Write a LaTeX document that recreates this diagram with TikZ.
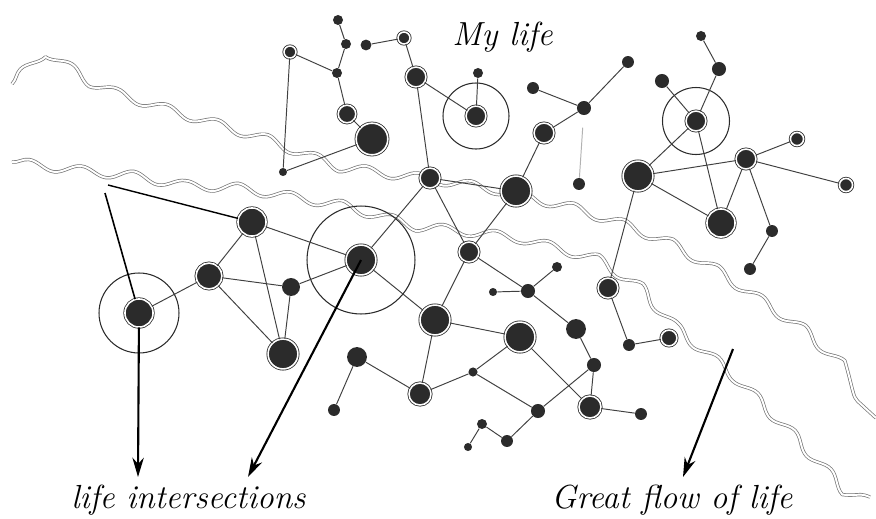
\documentclass[tikz,border=0pt]{standalone}
\usepackage{tikz}
\usetikzlibrary{arrows.meta,decorations.pathmorphing}
\definecolor{ink}{HTML}{2B2B2B}

\begin{document}
\begin{tikzpicture}[x=0.02cm,y=-0.02cm,
  link/.style={draw=black!75,line width=0.55pt},
  halo/.style={draw=ink,line width=0.6pt},
  dot/.style={circle,fill=ink,inner sep=0pt,minimum size=#1},
  ring/.style={circle,fill=ink,draw=ink,line width=0.45pt,double=white,double distance=0.9pt,inner sep=0pt,minimum size=#1},
  river/.style={draw=black!55,line width=0.4pt,double=white,double distance=1.1pt,line join=round,decorate,
    decoration={snake,amplitude=2.6pt,segment length=30pt}},
  pointer/.style={draw=black,line width=1.2pt},
  tag/.style={font=\fontsize{19}{23}\selectfont\itshape,inner sep=0pt}]
  \useasboundingbox (0,0) rectangle (876,518);
  % the two streams
  \draw[river] (12,84) -- (24,72) -- (42,76) -- (70,95) -- (110,112) -- (160,128) -- (210,143)
    -- (250,155) -- (283,168) -- (320,182) -- (380,190) -- (440,198) -- (500,208) -- (560,222) -- (615,240)
    -- (665,260) -- (720,292) -- (790,340) -- (840,385) -- (876,418);
  \draw[river] (12,162) -- (60,168) -- (110,173) -- (160,182) -- (220,185) -- (280,195)
    -- (340,205) -- (400,222) -- (460,228) -- (520,236) -- (580,252) -- (630,285) -- (670,330) -- (733,383)
    -- (790,440) -- (830,483) -- (870,497);
  % upper group
  \node[dot=5.7pt] (a1) at (338,20) {}; \node[dot=5.7pt] (a2) at (346,44) {}; \node[dot=5.7pt] (a3) at (337,73) {};
  \node[ring=6.8pt] (a4) at (290,52) {}; \node[ring=10pt] (a5) at (347,114) {}; \node[ring=18pt] (a6) at (372,139) {};
  \node[dot=4.6pt] (a7) at (283,172) {};
  \node[dot=6.2pt] (b1) at (366,45) {}; \node[ring=6.8pt] (b2) at (404,38) {}; \node[ring=11.3pt] (b3) at (416,77) {};
  \node[dot=5.7pt] (c1) at (478,73) {}; \node[ring=11.3pt] (c2) at (476,116) {};
  \node[ring=11.3pt] (d1) at (430,178) {}; \node[ring=17pt] (d2) at (516,191) {};
  \node[dot=6.8pt] (e1) at (533,88) {}; \node[ring=11.3pt] (e2) at (544,133) {}; \node[dot=8pt] (e3) at (584,108) {};
  \node[dot=6.8pt] (e4) at (579,184) {}; \node[dot=6.8pt] (e5) at (628,62) {};
  % right group
  \node[dot=5.7pt] (f1) at (701,36) {}; \node[dot=8pt] (f2) at (719,69) {}; \node[dot=8pt] (f3) at (662,81) {};
  \node[ring=11.3pt] (f4) at (696,121) {}; \node[ring=17pt] (f5) at (638,176) {}; \node[ring=11.3pt] (f6) at (746,159) {};
  \node[ring=7.5pt] (f7) at (797,139) {}; \node[ring=7.5pt] (f8) at (846,185) {}; \node[ring=16pt] (f9) at (721,223) {};
  \node[dot=6.8pt] (f10) at (772,231) {}; \node[dot=6.8pt] (f11) at (750,269) {};
  \node[ring=11.3pt] (m1) at (608,288) {}; \node[dot=6.8pt] (m2) at (629,345) {}; \node[ring=9pt] (m3) at (669,338) {};
  % middle group
  \node[ring=11.3pt] (g1) at (469,252) {};
  \node[dot=5.7pt] (k1) at (557,267) {}; \node[dot=4.6pt] (k2) at (493,292) {}; \node[dot=8pt] (k3) at (528,291) {};
  \node[dot=11.3pt] (k4) at (576,329) {}; \node[dot=8pt] (k5) at (594,365) {}; \node[ring=12.5pt] (k6) at (590,407) {};
  \node[dot=6.8pt] (k7) at (641,414) {};
  \node[ring=17pt] (h1) at (361,260) {};
  \node[ring=17pt] (n1) at (435,320) {}; \node[ring=17pt] (n2) at (520,337) {}; \node[dot=5.2pt] (n3) at (473,372) {};
  \node[dot=8pt] (n4) at (538,411) {}; \node[ring=12.5pt] (n5) at (420,394) {}; \node[dot=11.3pt] (n6) at (357,357) {};
  \node[dot=6.8pt] (n7) at (334,410) {};
  \node[dot=5.7pt] (p1) at (482,424) {}; \node[dot=6.8pt] (p2) at (507,441) {}; \node[dot=4.6pt] (p3) at (468,447) {};
  % left group
  \node[ring=16pt] (q1) at (139,313) {}; \node[ring=14.7pt] (q2) at (209,276) {}; \node[ring=16pt] (q3) at (252,222) {};
  \node[dot=10.2pt] (q4) at (291,287) {}; \node[ring=17pt] (q5) at (283,354) {};
  % halos
  \draw[halo] (c2) circle[radius=0.66cm]; \draw[halo] (f4) circle[radius=0.67cm];
  \draw[halo] (h1) circle[radius=1.08cm]; \draw[halo] (q1) circle[radius=0.8cm];
  % links
  \foreach \s/\t in {a1/a2,a2/a3,a4/a3,a3/a5,a5/a6,a4/a7,a7/a6,b1/b2,b2/b3,b3/c2,b3/d1,c1/c2,
      d1/d2,d1/h1,d1/g1,d2/g1,d2/e2,e1/e3,e3/e5,e3/e2,f1/f2,f2/f4,f3/f4,f4/f5,f4/f9,f5/f6,f6/f7,
      f6/f8,f5/f9,f6/f9,f6/f10,f10/f11,f5/m1,m1/m2,m2/m3,g1/n1,g1/k3,k2/k3,k3/k1,k3/k4,k4/k5,
      k5/n4,k5/k6,k6/k7,n2/k6,h1/n1,n1/n2,n1/n5,n2/n3,n3/n5,n3/n4,n4/p2,p2/p1,p1/p3,n6/n5,n6/n7,
      q1/q2,q2/q3,q2/q4,q2/q5,q3/q5,q4/q5,q4/h1,q3/h1}
    \draw[link] (\s) -- (\t);
  \draw[link,draw=black!30,shorten >=7pt] (e4) -- (e3);
  % pointers and labels
  \coordinate (t1) at (108,185); \coordinate (t2) at (105,193);
  \coordinate (tip1) at (138,477); \coordinate (tip2) at (248,477);
  \coordinate (r1) at (733,349); \coordinate (tip3) at (683,477);
  \draw[link,draw=black,line width=0.8pt] (t1) -- (q3); \draw[link,draw=black,line width=0.9pt] (t2) -- (q1);
  \draw[pointer,-{Stealth[length=11pt,width=6.5pt]}] (q1) -- (tip1);
  \draw[pointer,-{Stealth[length=11pt,width=6.5pt]}] (h1.center) -- (tip2);
  \draw[pointer,-{Stealth[length=11pt,width=6.5pt]}] (r1) -- (tip3);
  \node[tag,anchor=base west] (mylife) at (452,45) {My life};
  \node[tag,anchor=base west] (cross) at (71,508) {life intersections};
  \node[tag,anchor=base west] (flow) at (551,508) {Great flow of life};
\end{tikzpicture}
\end{document}
